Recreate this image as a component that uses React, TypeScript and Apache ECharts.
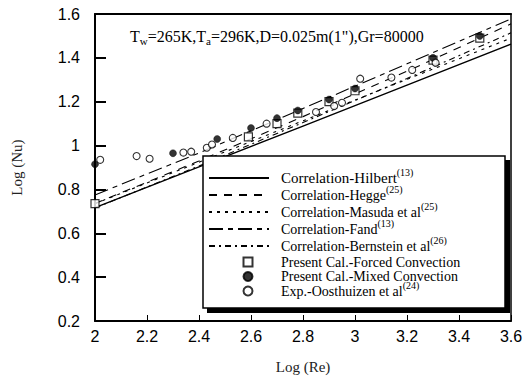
import React, { useEffect, useRef } from "react";
import * as echarts from "echarts";

// ---- axis ranges / ticks ----
const xMin = 2;
const xMax = 3.6;
const xStep = 0.2;
const yMin = 0.2;
const yMax = 1.6;
const yStep = 0.2;

// ---- correlation curves (Log Re -> Log Nu) ----
const corrLogRe = [2, 2.4, 2.8, 3.2, 3.6];
const hilbert = [0.717, 0.903, 1.089, 1.276, 1.463];
const hegge = [0.736, 0.93, 1.132, 1.339, 1.555];
const masuda = [0.735, 0.924, 1.113, 1.302, 1.49];
const fand = [0.775, 0.966, 1.169, 1.373, 1.578];
const bernstein = [0.715, 0.907, 1.105, 1.306, 1.514];

// ---- present calculation, forced convection ----
const forcedRe = [2.0, 2.59, 2.7, 2.78, 2.9, 3.0, 3.3, 3.48];
const forcedNu = [0.735, 1.04, 1.1, 1.148, 1.2, 1.25, 1.39, 1.49];

// ---- present calculation, mixed convection ----
const mixedRe = [2.0, 2.3, 2.47, 2.6, 2.7, 2.78, 2.9, 3.0, 3.3, 3.48];
const mixedNu = [0.915, 0.965, 1.03, 1.08, 1.125, 1.16, 1.21, 1.26, 1.4, 1.5];

// ---- experiment, Oosthuizen et al ----
const expRe = [2.02, 2.16, 2.21, 2.34, 2.37, 2.43, 2.45, 2.53, 2.66, 2.85, 2.92, 2.95, 3.02, 3.14, 3.22, 3.31];
const expNu = [0.935, 0.952, 0.94, 0.968, 0.972, 0.99, 1.005, 1.035, 1.1, 1.153, 1.18, 1.195, 1.305, 1.31, 1.345, 1.378];

// ---- legend texts ----
const seriesNames = [
  "Correlation-Hilbert",
  "Correlation-Hegge",
  "Correlation-Masuda et al",
  "Correlation-Fand",
  "Correlation-Bernstein et al",
  "Present Cal.-Forced Convection",
  "Present Cal.-Mixed Convection",
  "Exp.-Oosthuizen et al",
];
const superscripts = ["13", "25", "25", "13", "26", "", "", "24"];

const xLabel = "Log (Re)";
const yLabel = "Log (Nu)";

const zip = (xs: number[], ys: number[]) => xs.map((x, i) => [x, ys[i]]);

const SERIF = "Liberation Serif";
const SANS = "Liberation Sans";

export default function App() {
  const ref = useRef<HTMLDivElement>(null);

  useEffect(() => {
    if (!ref.current) return;
    const chart = echarts.init(ref.current, null, { renderer: "svg" });

    const lineSeries = (name: string, ys: number[], dash: any, width = 1.1) => ({
      name,
      type: "line",
      data: zip(corrLogRe, ys),
      symbol: "none",
      silent: true,
      z: 2,
      lineStyle: { color: "#000", width, type: dash },
      itemStyle: { color: "#000" },
    });

    const makeRich = (leftPad: number) => ({
      a: { fontFamily: SERIF, fontSize: 14, lineHeight: 14, color: "#000", padding: [0, 0, 0, leftPad] },
      h: { fontFamily: SERIF, fontSize: 15, lineHeight: 14, color: "#000", padding: [0, 0, 0, leftPad] },
      s: { fontFamily: SERIF, fontSize: 10, lineHeight: 14, color: "#000", padding: [0, 0, 12, 0] },
    });
    const legendFormatter = (name: string) => {
      const i = seriesNames.indexOf(name);
      const main = i === 0 ? "h" : "a";
      return `{${main}|${name}}` + (superscripts[i] ? `{s|(${superscripts[i]})}` : "{s| }");
    };

    const option: any = {
      animation: false,
      backgroundColor: "#fff",
      grid: { left: 95, top: 14, right: 13, bottom: 61, outerBoundsMode: "none", containLabel: false },
      xAxis: [
        {
          type: "value",
          min: xMin,
          max: xMax,
          interval: xStep,
          name: xLabel,
          nameLocation: "middle",
          nameGap: 38,
          nameTextStyle: { fontFamily: SERIF, fontSize: 15, color: "#222" },
          axisLine: { show: true, lineStyle: { color: "#000", width: 2 } },
          axisTick: { show: true, inside: true, length: 6, lineStyle: { color: "#000", width: 1 } },
          axisLabel: { color: "#000", fontFamily: SANS, fontSize: 16, margin: 7 },
          splitLine: { show: false },
        },
        {
          type: "value",
          position: "top",
          min: xMin,
          max: xMax,
          axisLine: { show: true, lineStyle: { color: "#000", width: 2 } },
          axisTick: { show: false },
          axisLabel: { show: false },
          splitLine: { show: false },
        },
      ],
      yAxis: [
        {
          type: "value",
          min: yMin,
          max: yMax,
          interval: yStep,
          name: yLabel,
          nameLocation: "middle",
          nameGap: 71,
          nameTextStyle: { fontFamily: SERIF, fontSize: 15, color: "#222" },
          axisLine: { show: true, lineStyle: { color: "#000", width: 2 } },
          axisTick: { show: true, inside: true, length: 11, lineStyle: { color: "#000", width: 2 } },
          axisLabel: { color: "#000", fontFamily: SANS, fontSize: 16, margin: 15 },
          splitLine: { show: false },
        },
        {
          type: "value",
          position: "right",
          min: yMin,
          max: yMax,
          axisLine: { show: true, lineStyle: { color: "#000", width: 1.5 } },
          axisTick: { show: false },
          axisLabel: { show: false },
          splitLine: { show: false },
        },
      ],
      legend: [
        {
          data: seriesNames.slice(0, 5),
          orient: "vertical",
          left: 208,
          top: 167,
          padding: 0,
          itemWidth: 60,
          itemHeight: 14,
          itemGap: -5,
          z: 20,
          selectedMode: false,
          itemStyle: { color: "rgba(0,0,0,0)", borderColor: "rgba(0,0,0,0)", borderWidth: 0 },
          formatter: legendFormatter,
          textStyle: { fontFamily: SERIF, fontSize: 14, color: "#000", rich: makeRich(7) },
        },
        {
          data: seriesNames.slice(5),
          orient: "vertical",
          left: 242.5,
          top: 251,
          padding: 0,
          itemWidth: 9,
          itemHeight: 9,
          itemGap: -7.5,
          z: 20,
          selectedMode: false,
          formatter: legendFormatter,
          textStyle: { fontFamily: SERIF, fontSize: 14, color: "#000", rich: makeRich(23.5) },
        },
      ],
      graphic: {
        elements: [
          { type: "rect", z: 10, shape: { x: 207, y: 160, width: 303, height: 153 }, style: { fill: "#000" } },
          {
            type: "rect",
            z: 11,
            shape: { x: 203, y: 156, width: 302, height: 152 },
            style: { fill: "#fff", stroke: "#000", lineWidth: 1.5 },
          },
          {
            type: "text",
            z: 12,
            x: 130,
            y: 27,
            style: {
              text: '{n|T}{b|w}{n|=265K,T}{b|a}{n|=296K,D=0.025m(1"),Gr=80000}',
              rich: {
                n: { fontFamily: SERIF, fontSize: 16, lineHeight: 18, fill: "#000", color: "#000" },
                b: { fontFamily: SERIF, fontSize: 11, lineHeight: 18, fill: "#000", color: "#000", padding: [9, 0, 0, 0] },
              },
            },
          },
        ],
      },
      series: [
        lineSeries(seriesNames[0], hilbert, "solid", 1.4),
        lineSeries(seriesNames[1], hegge, [8, 7]),
        lineSeries(seriesNames[2], masuda, [3, 5]),
        lineSeries(seriesNames[3], fand, [14, 5, 5, 5]),
        lineSeries(seriesNames[4], bernstein, [6, 4, 2, 4]),
        {
          name: seriesNames[5],
          type: "scatter",
          data: zip(forcedRe, forcedNu),
          symbol: "rect",
          symbolSize: 8,
          z: 3,
          itemStyle: { color: "#fff", borderColor: "#000", borderWidth: 1.2 },
        },
        {
          name: seriesNames[6],
          type: "scatter",
          data: zip(mixedRe, mixedNu),
          symbol: "circle",
          symbolSize: 7,
          z: 4,
          itemStyle: { color: "#000", borderColor: "#000", borderWidth: 0.5 },
        },
        {
          name: seriesNames[7],
          type: "scatter",
          data: zip(expRe, expNu),
          symbol: "circle",
          symbolSize: 7,
          z: 5,
          itemStyle: { color: "#fff", borderColor: "#000", borderWidth: 1.1 },
        },
      ],
    };

    chart.setOption(option);
    return () => chart.dispose();
  }, []);

  return (
    <div
      ref={ref}
      style={{ position: "fixed", left: 0, top: 0, width: 524, height: 382, background: "#fff" }}
    />
  );
}
